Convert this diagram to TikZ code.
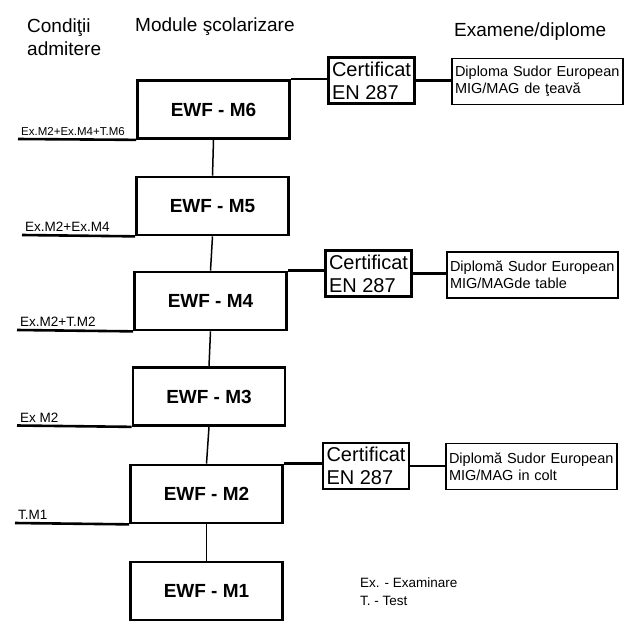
\documentclass[tikz,border=0pt]{standalone}
\usepackage{fontspec}
\setmainfont{Liberation Sans}

\begin{document}
\begin{tikzpicture}[x=1pt, y=-1pt,
        module/.style={draw=black, line width=2.7pt, minimum width=152pt, minimum height=58pt, font=\fontsize{19}{22}\selectfont\bfseries},
        cert/.style={draw=black, line width=2.9pt, minimum width=86pt, minimum height=46pt, inner sep=2pt, align=left, font=\fontsize{20}{23}\selectfont},
        diploma/.style={draw=black, line width=1.7pt, minimum width=171pt, minimum height=46pt, text width=165pt, inner sep=2pt, align=left, font=\fontsize{14.5}{17}\selectfont},
        cond/.style={anchor=south west, inner sep=3pt, font=\fontsize{13.5}{15}\selectfont},
        header/.style={anchor=west, inner sep=0pt, align=left, font=\fontsize{19}{23}\selectfont},
        link/.style={black, line width=1.5pt},
        bar/.style={black, line width=2.6pt}]
        \useasboundingbox (0,0) rectangle (624,622);

        %% headers
        \node[header] (hcond) at (27,37) {Condiţii\\admitere};
        \node[header] (hmod) at (135,27) {Module şcolarizare};
        \node[header] (hexam) at (454,32) {Examene/diplome};

        %% modules
        \node[module] (M6) at (213.5,109.5) {EWF - M6};
        \node[module] (M5) at (212.5,206) {EWF - M5};
        \node[module] (M4) at (210.5,301) {EWF - M4};
        \node[module] (M3) at (209,396.5) {EWF - M3};
        \node[module] (M2) at (206.5,494) {EWF - M2};
        \node[module] (M1) at (206.5,591) {EWF - M1};
        \foreach \a/\b in {M6/M5, M5/M4, M4/M3, M3/M2, M2/M1}
            \draw[link] (\a.south) -- (\b.north);

        %% admission conditions
        \coordinate (c6) at (18,139);
        \coordinate (c5) at (22,235);
        \coordinate (c4) at (17,330);
        \coordinate (c3) at (17,425.5);
        \coordinate (c2) at (15,523);
        \draw[bar] (c6) -- (M6.south west);
        \draw[bar] (c5) -- (M5.south west);
        \draw[bar] (c4) -- (M4.south west);
        \draw[bar] (c3) -- (M3.south west);
        \draw[bar] (c2) -- (M2.south west);
        \node[cond, font=\fontsize{11.5}{13}\selectfont] (l6) at (c6) {Ex.M2+Ex.M4+T.M6};
        \node[cond] (l5) at (c5) {Ex.M2+Ex.M4};
        \node[cond] (l4) at (c4) {Ex.M2+T.M2};
        \node[cond] (l3) at (c3) {Ex M2};
        \node[cond] (l2) at (c2) {T.M1};

        %% certificates and diplomas
        \node[cert] (C6) at (371.5,80.5) {Certificat\\EN 287};
        \node[cert] (C4) at (368.5,273.5) {Certificat\\EN 287};
        \node[cert] (C2) at (366,466) {Certificat\\EN 287};
        \node[diploma] (D6) at (537.5,81.5) {Diploma Sudor European\\MIG/MAG de ţeavă};
        \node[diploma] (D4) at (532.5,275) {Diplomă Sudor European\\MIG/MAGde table};
        \node[diploma] (D2) at (531.5,466.5) {Diplomă Sudor European\\MIG/MAG in colt};
        \foreach \m/\c/\d in {M6/C6/D6, M4/C4/D4, M2/C2/D2} {
            \draw[bar] (\m.north east) -- (\m.north east -| \c.west);
            \draw[bar] (\c.east) -- (\c.east -| \d.west);
        }

        %% legend
        \node[anchor=west, align=left, inner sep=0pt, font=\fontsize{13.5}{18}\selectfont] (leg) at (360,592) {Ex. - Examinare\\T. - Test};
\end{tikzpicture}
\end{document}
